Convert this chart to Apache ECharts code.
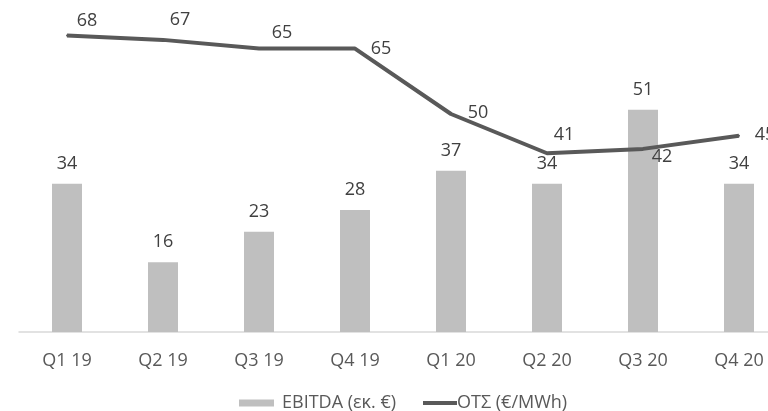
<!DOCTYPE html>
<html>
<head>
<meta charset="utf-8">
<script src="https://cdn.jsdelivr.net/npm/echarts@6/dist/echarts.min.js"></script>
<style>
html,body{margin:0;padding:0;background:#fff;}
#c{width:768px;height:411px;}
</style>
</head>
<body>
<div id="c"></div>
<script>
const categories = ['Q1 19','Q2 19','Q3 19','Q4 19','Q1 20','Q2 20','Q3 20','Q4 20'];
const ebitda = [34, 16, 23, 28, 37, 34, 51, 34];
const ots = [68, 67, 65, 65, 50, 41, 42, 45];
const barName = 'EBITDA (εκ. €)';
const lineName = 'ΟΤΣ (€/MWh)';

// label offsets for the line values (style only)
const lineLabelOffsets = [[20,-15],[17,-20],[23,-16],[26,0],[27,-1],[17,-18],[19,8],[26,-1]];

const font = 'Open Sans';
const chart = echarts.init(document.getElementById('c'));
chart.setOption({
  animation: false,
  backgroundColor: '#ffffff',
  textStyle: { fontFamily: font },
  grid: { left: 19, width: 768, top: 5, bottom: 79, containLabel: false, outerBoundsMode: 'none' },
  xAxis: {
    type: 'category',
    data: categories,
    axisLine: { show: true, lineStyle: { color: '#d9d9d9', width: 1.5 } },
    axisTick: { show: false },
    axisLabel: { color: '#595959', fontSize: 18, fontFamily: font, margin: 20 }
  },
  yAxis: {
    type: 'value', min: 0, max: 75, show: false,
    splitLine: { show: false }
  },
  legend: [
    {
      data: [{ name: barName, icon: 'rect' }],
      left: 234, top: 389,
      itemWidth: 35, itemHeight: 7,
      textStyle: { color: '#595959', fontSize: 18, fontFamily: font, padding: [0,0,0,3] }
    },
    {
      data: [{ name: lineName, icon: 'rect' }],
      left: 418, top: 389,
      itemWidth: 34, itemHeight: 4,
      textStyle: { color: '#595959', fontSize: 18, fontFamily: font, padding: [0,0,0,-5] }
    }
  ],
  series: [
    {
      name: barName,
      type: 'bar',
      data: ebitda,
      barWidth: 30,
      itemStyle: { color: '#bfbfbf' },
      label: { show: true, position: 'top', distance: 11, color: '#404040', fontSize: 18, fontFamily: font }
    },
    {
      name: lineName,
      type: 'line',
      data: ots.map((v, i) => ({
        value: v,
        label: { offset: lineLabelOffsets[i] }
      })),
      symbol: 'circle',
      symbolSize: 2,
      showSymbol: true,
      itemStyle: { color: '#595959' },
      lineStyle: { color: '#595959', width: 4 },
      label: { show: true, position: 'inside', color: '#404040', fontSize: 18, fontFamily: font }
    }
  ]
});
</script>
</body>
</html>
